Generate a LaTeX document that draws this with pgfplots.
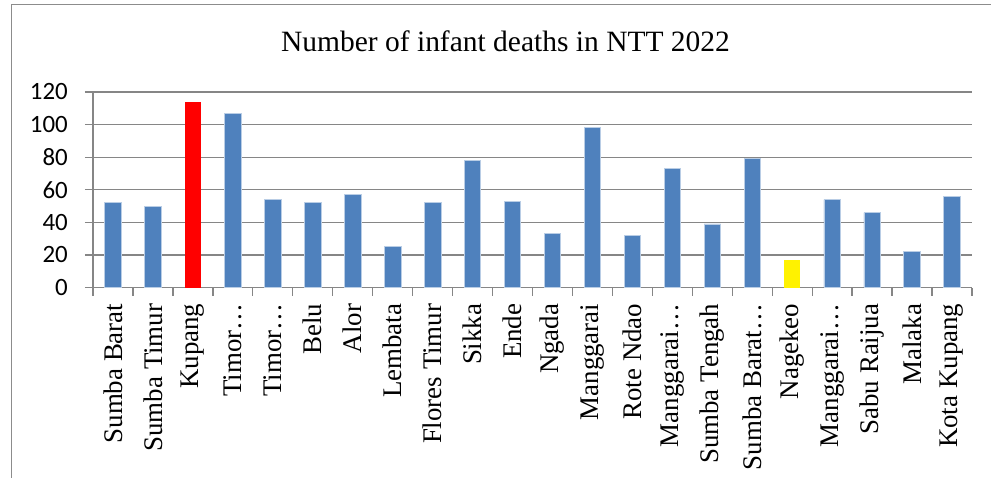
\documentclass[border=0pt]{standalone}
\usepackage{pgfplots}
\pgfplotsset{compat=1.18}
\usepackage{fontspec}
\setmainfont{Liberation Serif}
\newfontfamily\carlito{Carlito}
\definecolor{barblue}{RGB}{79,129,189}
\definecolor{baredge}{RGB}{185,205,229}
\definecolor{gridgray}{RGB}{134,134,134}
\definecolor{framegray}{RGB}{140,140,140}
\begin{document}
\begin{tikzpicture}
\path[use as bounding box] (0,0) rectangle (991bp,478bp);
\draw[framegray, line width=1.3bp] (11.7bp,-5bp) -- (11.7bp,473.3bp) -- (1000bp,473.3bp);
\node[anchor=base, font=\fontsize{29.6}{32}\selectfont] at (505.5bp,426.3bp) {Number of infant deaths in NTT 2022};
\begin{axis}[
  at={(93bp,190.5bp)}, anchor=south west,
  scale only axis, width=879bp, height=195.5bp,
  xmin=-0.5, xmax=21.5, ymin=0, ymax=120,
  ytick={0,20,...,120},
  xtick={0,...,21},
  minor xtick={-0.5,0.5,...,21.5},
  xticklabels={Sumba Barat,Sumba Timur,Kupang,Timor…,Timor…,Belu,Alor,Lembata,Flores Timur,Sikka,Ende,Ngada,Manggarai,Rote Ndao,Manggarai…,Sumba Tengah,Sumba Barat…,Nagekeo,Manggarai…,Sabu Raijua,Malaka,Kota Kupang},
  axis x line*=bottom, axis y line*=left,
  axis line style={gridgray, line width=1.3bp, -},
  ymajorgrids, major grid style={gridgray, line width=1.3bp},
  tick align=outside,
  major tick length=8bp, minor tick length=8bp,
  major x tick style={draw=none},
  minor x tick style={gridgray, line width=1.3bp},
  major y tick style={gridgray, line width=1.3bp},
  xticklabel shift=8bp,
  xticklabel style={rotate=90, anchor=east, inner sep=0pt, font=\fontsize{27}{28}\selectfont},
  yticklabel style={anchor=east, inner sep=0pt, xshift=-17bp, font=\carlito\fontsize{25}{26}\selectfont},
  /pgf/number format/assume math mode=true,
  ybar, bar width=16.5bp, bar shift=0pt,
  clip=false,
]
\addplot[fill=barblue, draw=baredge, line width=0.7bp] coordinates {
(0,52) (1,50) (3,107) (4,54) (5,52) (6,57) (7,25) (8,52) (9,78) (10,53)
(11,33) (12,98) (13,32) (14,73) (15,39) (16,79) (18,54) (19,46) (20,22) (21,56)};
\addplot[fill=red, draw=none] coordinates {(2,114)};
\addplot[fill=yellow, draw=none] coordinates {(17,17)};
\end{axis}
\end{tikzpicture}
\end{document}
